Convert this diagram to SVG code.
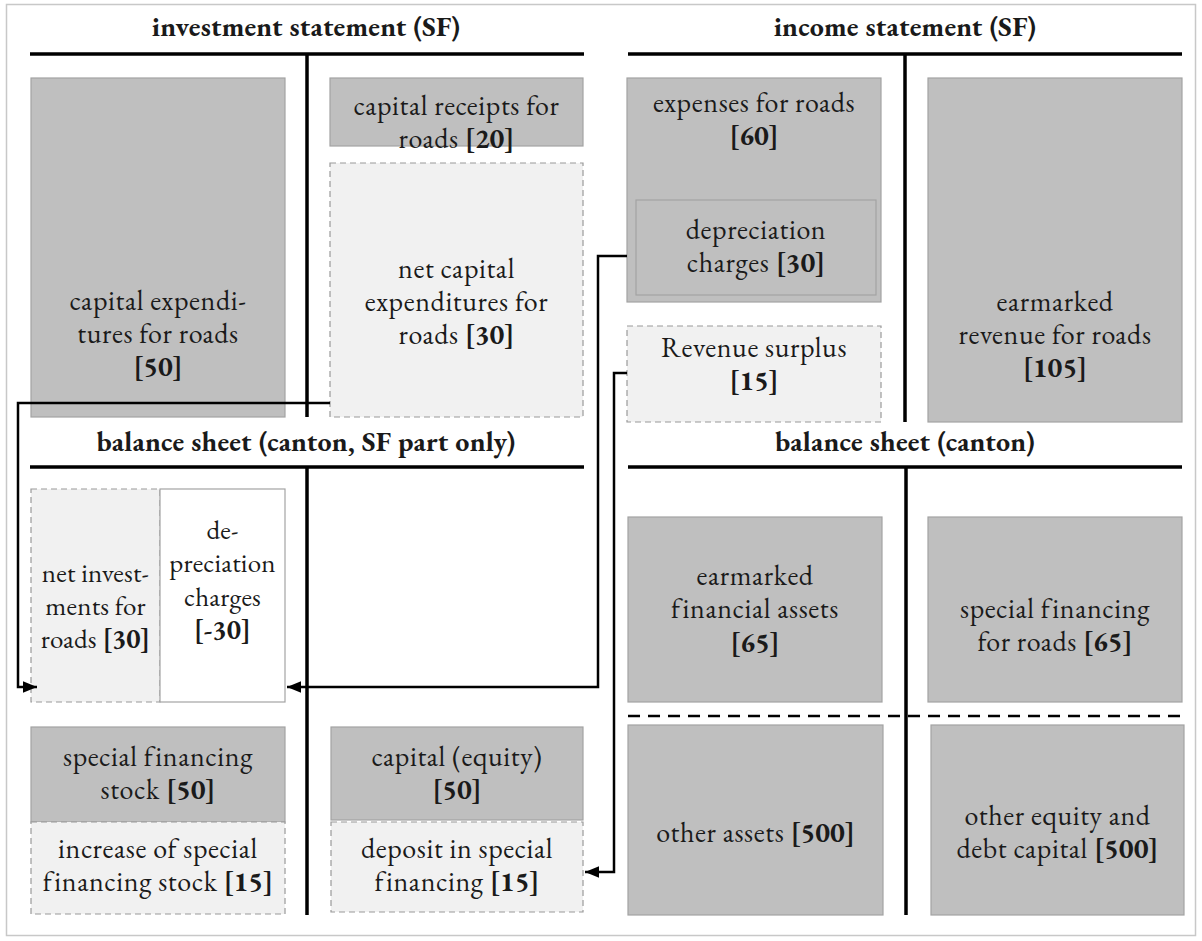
<svg xmlns="http://www.w3.org/2000/svg" width="1202" height="941" viewBox="0 0 1202 941">
<style>
text{font-size:28px;fill:#1a1a1a;text-anchor:middle;letter-spacing:0.6px}
.t{font-weight:bold;font-size:28px;letter-spacing:0.2px}
.b{font-weight:bold;letter-spacing:0}
.n{font-size:27px;letter-spacing:0.2px}
.g{fill:#bfbfbf;stroke:#a3a3a3;stroke-width:1.2}
.d{fill:#f1f1f1;stroke:#9a9a9a;stroke-width:1.2;stroke-dasharray:6 4}
.w{fill:#ffffff;stroke:#a3a3a3;stroke-width:1.2}
.ax{stroke:#000;stroke-width:3.5;fill:none}
.c{stroke:#000;stroke-width:2.5;fill:none;marker-end:url(#ah)}
</style>
<defs>
<marker id="ah" viewBox="0 0 12 10" markerUnits="userSpaceOnUse" markerWidth="14" markerHeight="12" refX="12" refY="5" orient="auto">
<path d="M0,0 L12,5 L0,10 z" fill="#000"/>
</marker>
</defs>
<rect x="0" y="0" width="1202" height="941" fill="#fff"/>
<rect x="6.5" y="4.5" width="1189" height="931" fill="none" stroke="#c8c8c8" stroke-width="1.5"/>
<g font-family="EB Garamond, Liberation Serif, serif">
<g id="axes">
<text class="t" x="306" y="36">investment statement (SF)</text>
<line class="ax" x1="30" y1="54" x2="584" y2="54"/>
<line class="ax" x1="307" y1="54" x2="307" y2="417"/>
<text class="t" x="905" y="36">income statement (SF)</text>
<line class="ax" x1="628" y1="54" x2="1182" y2="54"/>
<line class="ax" x1="905" y1="54" x2="905" y2="422"/>
<text class="t" x="306" y="451">balance sheet (canton, SF part only)</text>
<line class="ax" x1="30" y1="467" x2="584" y2="467"/>
<line class="ax" x1="307" y1="467" x2="307" y2="915"/>
<text class="t" x="905" y="451">balance sheet (canton)</text>
<line class="ax" x1="628" y1="467" x2="1182" y2="467"/>
<line class="ax" x1="906" y1="467" x2="906" y2="915"/>
<line x1="628" y1="716" x2="1186" y2="716" stroke="#000" stroke-width="2.5" stroke-dasharray="12 8"/>
</g>

<g id="capex">
<rect class="g" x="31" y="78" width="254" height="339"/>
<text x="158" y="310">capital expendi-</text>
<text x="158" y="343">tures for roads</text>
<text x="158" y="376" class="b">[50]</text>
</g>
<g id="receipts">
<rect class="g" x="330" y="78" width="253" height="68"/>
<text x="456.5" y="115">capital receipts for</text>
<text x="456.5" y="148">roads <tspan class="b">[20]</tspan></text>
</g>
<g id="netcapex">
<rect class="d" x="330" y="163" width="253" height="254"/>
<text x="456.5" y="278">net capital</text>
<text x="456.5" y="311">expenditures for</text>
<text x="456.5" y="344">roads <tspan class="b">[30]</tspan></text>
</g>
<g id="expenses">
<rect class="g" x="627" y="78" width="254" height="224"/>
<text x="754" y="112">expenses for roads</text>
<text x="754" y="145" class="b">[60]</text>
</g>
<g id="depreciation">
<rect class="g" x="636" y="200" width="240" height="95"/>
<text x="756" y="239">depreciation</text>
<text x="756" y="272">charges <tspan class="b">[30]</tspan></text>
</g>
<g id="surplus">
<rect class="d" x="627" y="326" width="254" height="96"/>
<text x="754" y="357">Revenue surplus</text>
<text x="754" y="390" class="b">[15]</text>
</g>
<g id="revenue">
<rect class="g" x="928" y="78" width="254" height="344"/>
<text x="1055" y="311">earmarked</text>
<text x="1055" y="344">revenue for roads</text>
<text x="1055" y="377" class="b">[105]</text>
</g>

<g id="netinvest">
<rect class="d" x="31" y="489" width="129" height="213"/>
<text class="n" x="95.5" y="582">net invest-</text>
<text class="n" x="95.5" y="615">ments for</text>
<text class="n" x="95.5" y="648">roads <tspan class="b">[30]</tspan></text>
</g>
<g id="deprbs">
<rect class="w" x="160" y="489" width="125" height="213"/>
<text class="n" x="222.5" y="539">de-</text>
<text class="n" x="222.5" y="572">preciation</text>
<text class="n" x="222.5" y="606">charges</text>
<text class="n b" x="222.5" y="639">[-30]</text>
</g>
<g id="sfstock">
<rect class="g" x="31" y="727" width="254" height="95"/>
<text x="158" y="766">special financing</text>
<text x="158" y="799">stock <tspan class="b">[50]</tspan></text>
</g>
<g id="increase">
<rect class="d" x="31" y="822" width="254" height="92"/>
<text x="158" y="858">increase of special</text>
<text x="158" y="891">financing stock <tspan class="b">[15]</tspan></text>
</g>
<g id="capital">
<rect class="g" x="331" y="727" width="252" height="93"/>
<text x="457" y="766">capital (equity)</text>
<text x="457" y="799" class="b">[50]</text>
</g>
<g id="deposit">
<rect class="d" x="331" y="822" width="252" height="90"/>
<text x="457" y="858">deposit in special</text>
<text x="457" y="891">financing <tspan class="b">[15]</tspan></text>
</g>

<g id="finassets">
<rect class="g" x="628" y="517" width="254" height="185"/>
<text x="755" y="585">earmarked</text>
<text x="755" y="618">financial assets</text>
<text x="755" y="652" class="b">[65]</text>
</g>
<g id="sfroads">
<rect class="g" x="928" y="517" width="254" height="185"/>
<text x="1055" y="618">special financing</text>
<text x="1055" y="651">for roads <tspan class="b">[65]</tspan></text>
</g>
<g id="otherassets">
<rect class="g" x="628" y="725" width="255" height="190"/>
<text x="755.5" y="842">other assets <tspan class="b">[500]</tspan></text>
</g>
<g id="otherequity">
<rect class="g" x="931" y="725" width="253" height="190"/>
<text x="1057.5" y="825">other equity and</text>
<text x="1057.5" y="858">debt capital <tspan class="b">[500]</tspan></text>
</g>
</g>
<g id="connectors">
<path class="c" d="M330,403 H18 V687 H37"/>
<path class="c" d="M627,256 H598 V687 H287"/>
<path class="c" d="M627,373 H614 V872 H585"/>
</g>
</svg>
